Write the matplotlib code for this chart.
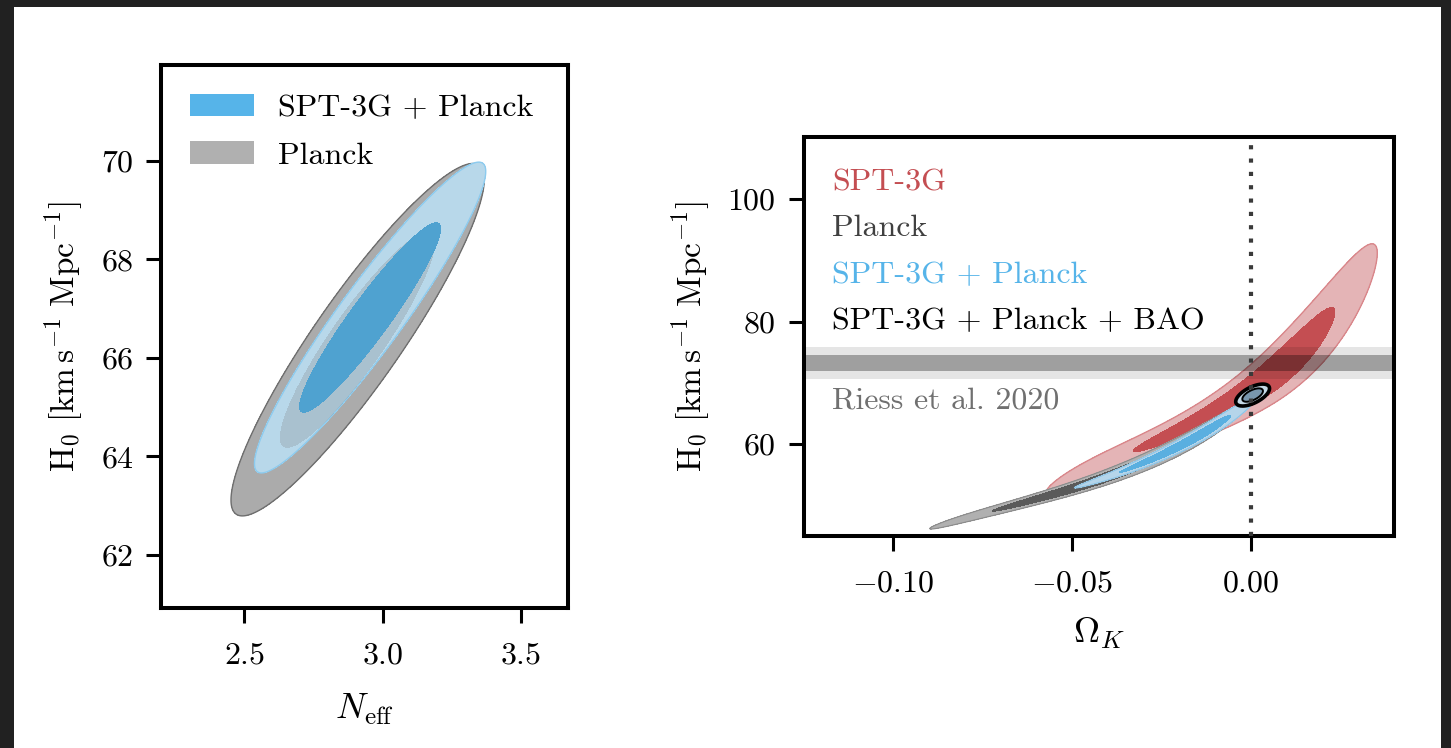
import numpy as np
import matplotlib
matplotlib.use('Agg')
from matplotlib import pyplot as plt
from matplotlib.patches import Patch, Rectangle

plt.rcParams['font.family'] = 'serif'
plt.rcParams['font.serif'] = ['cmr10']
plt.rcParams['mathtext.fontset'] = 'cm'
plt.rcParams['axes.formatter.use_mathtext'] = True
plt.rcParams['font.size'] = 23

# 68% / 95% levels of a 2D gaussian (delta chi^2)
levels = [2.30, 6.18]

# N_eff - H0 posteriors: mean, sigma, correlation
neff_planck_mean = [2.91, 66.37]
neff_planck_sigma = [0.184, 1.44]
neff_planck_rho = 0.91
neff_spt_planck_mean = [2.955, 66.82]
neff_spt_planck_sigma = [0.168, 1.27]
neff_spt_planck_rho = 0.94

# Omega_K - H0: geometric degeneracy ridge (Omega_K, H0)
spt_ridge_ok = [-0.057, -0.047, -0.0285, 0.0, 0.0184, 0.0352]
spt_ridge_h0 = [52.5, 54.8, 60.4, 68.5, 78.3, 91.0]
cmb_ridge_ok = [-0.090, -0.069, -0.051, -0.036, -0.0285, -0.008, 0.001]
cmb_ridge_h0 = [46.2, 49.5, 52.6, 55.6, 57.4, 63.5, 67.5]

# Omega_K constraints: mean, lower sigma, upper sigma, width across the ridge
spt_ok = [0.005, 0.025, 0.0122, 0.0042]
planck_ok = [-0.045, 0.018, 0.018, 0.0025]
spt_planck_ok = [-0.017, 0.013, 0.0075, 0.0015]
# SPT-3G + Planck + BAO
bao_mean = [0.0005, 68.0]
bao_sigma = [0.0019, 0.72]
bao_rho = 0.6

riess_h0 = 73.2
riess_err = 1.3


def gauss_chi2(X, Y, mean, sigma, rho):
    dx = (X - mean[0]) / sigma[0]
    dy = (Y - mean[1]) / sigma[1]
    return (dx**2 - 2 * rho * dx * dy + dy**2) / (1 - rho**2)


def banana_chi2(X, Y, ridge_x, ridge_y, pars):
    mean, s_lo, s_hi, c = pars
    coef = np.polyfit(ridge_x, ridge_y, 3)
    ridge = np.polyval(coef, X)
    width = c * np.maximum(np.abs(np.polyval(np.polyder(coef), X)), 1.0)
    s = np.where(X < mean, s_lo, s_hi)
    return ((X - mean) / s)**2 + ((Y - ridge) / width)**2


def fill(ax, X, Y, chi2, lev, color, alpha=1.0, zorder=1):
    ax.contourf(X, Y, chi2, levels=[-1, lev], colors=[color], alpha=alpha, zorder=zorder)


def edge(ax, X, Y, chi2, lev, color, lw=1.0, zorder=1):
    ax.contour(X, Y, chi2, levels=[lev], colors=[color], linewidths=lw, zorder=zorder)


fig = plt.figure(figsize=(14.51, 7.48), dpi=100, facecolor='#212121')
fig.patches.append(Rectangle((14 / 1451, 0), 1427 / 1451, 741 / 748, transform=fig.transFigure,
                             facecolor='white', edgecolor='none', zorder=-10))

ylab = r'$\mathrm{H}_0\ [\mathrm{km\,s^{-1}\ Mpc^{-1}}]$'

# ---- left: N_eff vs H0
ax1 = fig.add_axes([0.111, 0.1872, 0.2805, 0.7259])
x = np.linspace(2.2, 3.67, 700)
y = np.linspace(60.92, 71.95, 700)
X, Y = np.meshgrid(x, y)
c_pl = gauss_chi2(X, Y, neff_planck_mean, neff_planck_sigma, neff_planck_rho)
c_sp = gauss_chi2(X, Y, neff_spt_planck_mean, neff_spt_planck_sigma, neff_spt_planck_rho)

fill(ax1, X, Y, c_pl, levels[1], '#ababab', zorder=1)
edge(ax1, X, Y, c_pl, levels[1], '#6e6e6e', 1.0, zorder=1)
fill(ax1, X, Y, c_sp, levels[1], '#b8d8ea', zorder=2)
edge(ax1, X, Y, c_sp, levels[1], '#8ccbef', 1.0, zorder=2)
fill(ax1, X, Y, c_pl, levels[0], '#808080', alpha=0.25, zorder=3)
fill(ax1, X, Y, c_sp, levels[0], '#4fa2d0', zorder=4)

ax1.set_xlim(2.2, 3.67)
ax1.set_ylim(60.92, 71.95)
ax1.set_xticks([2.5, 3.0, 3.5])
ax1.set_yticks([62, 64, 66, 68, 70])
ax1.set_xlabel(r'$N_{\mathrm{eff}}$', fontsize=26, labelpad=16)
ax1.set_ylabel(ylab, fontsize=24, labelpad=11)
ax1.legend(handles=[Patch(facecolor='#56b4e9', edgecolor='none'),
                    Patch(facecolor='#b0b0b0', edgecolor='none')],
           labels=['SPT-3G + Planck', 'Planck'], loc='upper left', frameon=False,
           handlelength=2.0, handleheight=0.7, handletextpad=0.75, labelspacing=0.6)

# ---- right: Omega_K vs H0
ax2 = fig.add_axes([0.5538, 0.2834, 0.4069, 0.5334])
x = np.linspace(-0.125, 0.04, 1400)
y = np.linspace(45.0, 110.1, 1400)
X, Y = np.meshgrid(x, y)
c_spt = banana_chi2(X, Y, spt_ridge_ok, spt_ridge_h0, spt_ok)
c_pl = banana_chi2(X, Y, cmb_ridge_ok, cmb_ridge_h0, planck_ok)
c_sp = banana_chi2(X, Y, cmb_ridge_ok, cmb_ridge_h0, spt_planck_ok)
c_bao = gauss_chi2(X, Y, bao_mean, bao_sigma, bao_rho)

fill(ax2, X, Y, c_spt, levels[1], '#e4b4b6', zorder=1)
edge(ax2, X, Y, c_spt, levels[1], '#d9868a', 1.0, zorder=1)
fill(ax2, X, Y, c_spt, levels[0], '#c44e52', zorder=1)
fill(ax2, X, Y, c_pl, levels[1], '#b0b0b0', zorder=2)
edge(ax2, X, Y, c_pl, levels[1], '#8a8a8a', 0.8, zorder=2)
fill(ax2, X, Y, c_pl, levels[0], '#5a5a5a', zorder=2)
fill(ax2, X, Y, c_sp, levels[1], '#b5d5ea', zorder=3)
edge(ax2, X, Y, c_sp, levels[1], '#8cc4e6', 0.8, zorder=3)
fill(ax2, X, Y, c_sp, levels[0], '#5aafe0', zorder=3)
fill(ax2, X, Y, c_bao, levels[1], '#c5d9e6', zorder=4)
fill(ax2, X, Y, c_bao, levels[0], '#7896ad', zorder=4)
edge(ax2, X, Y, c_bao, levels[1], 'black', 2.6, zorder=4)
edge(ax2, X, Y, c_bao, levels[0], 'black', 1.4, zorder=4)

ax2.axhspan(riess_h0 - 2 * riess_err, riess_h0 + 2 * riess_err, color='black', alpha=0.1, lw=0, zorder=5)
ax2.axhspan(riess_h0 - riess_err, riess_h0 + riess_err, color='black', alpha=0.3, lw=0, zorder=5)
ax2.axvline(0.0, color='#3a3a3a', lw=3.0, ls=(0, (1.0, 2.2)), zorder=6)

ax2.set_xlim(-0.125, 0.04)
ax2.set_ylim(45.0, 110.1)
ax2.set_xticks([-0.10, -0.05, 0.0])
ax2.set_yticks([60, 80, 100])
ax2.set_xlabel(r'$\Omega_K$', fontsize=26, labelpad=13)
ax2.set_ylabel(ylab, fontsize=24, labelpad=11)

labels = ['SPT-3G', 'Planck', 'SPT-3G + Planck', 'SPT-3G + Planck + BAO', 'Riess et al. 2020']
colors = ['#c44e52', '#404040', '#56b4e9', 'black', '#707070']
ypos = [0.8654, 0.7519, 0.6333, 0.518, 0.320]
for lab, col, yy in zip(labels, colors, ypos):
    ax2.text(0.048, yy, lab, color=col, transform=ax2.transAxes, va='baseline', ha='left', zorder=7)

for ax in [ax1, ax2]:
    for s in ax.spines.values():
        s.set_linewidth(2.9)
    ax.tick_params(direction='out', length=10.8, width=2.2, top=False, right=False)
    ax.tick_params(axis='x', pad=14)
    ax.tick_params(axis='y', pad=9)

plt.savefig('out.png', dpi=100, facecolor=fig.get_facecolor())
